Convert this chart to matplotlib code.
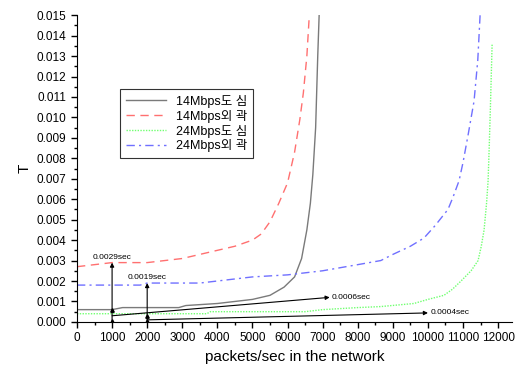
import numpy as np
import matplotlib.pyplot as plt
from matplotlib.ticker import MultipleLocator, FormatStrFormatter

plt.rcParams['font.family'] = ['Liberation Sans', 'Noto Sans CJK KR', 'DejaVu Sans']

# 14Mbps downtown (gray solid)
x_14d = [0, 1000, 1300, 2900, 3100, 4000, 4500, 5000, 5500, 5900, 6200, 6400,
         6550, 6650, 6720, 6800, 6860, 6900]
y_14d = [0.0006, 0.0006, 0.0007, 0.0007, 0.0008, 0.0009, 0.0010, 0.0011, 0.0013,
         0.0017, 0.0022, 0.0031, 0.0045, 0.0058, 0.0072, 0.0095, 0.0130, 0.0150]

# 14Mbps outskirts (red dashed)
x_14o = [0, 500, 1000, 2000, 2500, 3000, 3500, 4000, 4500, 5000, 5250, 5500,
         5750, 6000, 6200, 6350, 6450, 6550, 6620]
y_14o = [0.0027, 0.0028, 0.0029, 0.0029, 0.0030, 0.0031, 0.0033, 0.0035, 0.0037,
         0.0040, 0.0043, 0.0049, 0.0058, 0.0068, 0.0083, 0.0099, 0.0112, 0.0130,
         0.0150]

# 24Mbps downtown (green dotted)
x_24d = [0, 3700, 3800, 6500, 7000, 8000, 8657, 9600, 10000, 10457, 10700,
         10943, 11229, 11429, 11520, 11600, 11670, 11714, 11745, 11780, 11829]
y_24d = [0.0004, 0.0004, 0.0005, 0.0005, 0.0006, 0.0007, 0.00075, 0.0009, 0.0011,
         0.0013, 0.0016, 0.0020, 0.0025, 0.0030, 0.0037, 0.0045, 0.0058, 0.0069,
         0.0085, 0.0105, 0.0136]

# 24Mbps outskirts (blue dash-dot)
x_24o = [0, 1800, 2000, 3500, 4000, 4500, 5000, 6000, 7000, 8000, 8657, 9000,
         9500, 9886, 10200, 10571, 10714, 10886, 11000, 11150, 11314, 11420, 11486]
y_24o = [0.0018, 0.0018, 0.0019, 0.0019, 0.0020, 0.0021, 0.0022, 0.0023, 0.0025,
         0.0028, 0.0030, 0.0033, 0.0037, 0.0041, 0.0047, 0.0055, 0.0061, 0.0069,
         0.0078, 0.0092, 0.0108, 0.0128, 0.0150]

labels = ['14Mbps도 심', '14Mbps외 곽', '24Mbps도 심', '24Mbps외 곽']

fig = plt.figure(figsize=(5.15, 3.7), dpi=100)
ax = fig.add_axes([0.1495, 0.13, 0.845, 0.829])

ax.plot(x_14d, y_14d, color='#7a7a7a', lw=1.0, ls='-', label=labels[0])
ax.plot(x_14o, y_14o, color='#ff7070', lw=1.0, ls=(0, (6, 4)), label=labels[1])
ax.plot(x_24d, y_24d, color='#70ff70', lw=1.0, ls=(0, (1, 1)), label=labels[2])
ax.plot(x_24o, y_24o, color='#7070ff', lw=1.0, ls=(0, (6, 3, 1.5, 3)), label=labels[3])

# annotations
arrow = dict(arrowstyle='-|>', color='black', lw=0.8, mutation_scale=6,
             shrinkA=0, shrinkB=0)
ax.annotate('', xy=(1000, 0.0029), xytext=(1000, 0.0), arrowprops=arrow)
ax.annotate('', xy=(2000, 0.0019), xytext=(2000, 0.0), arrowprops=arrow)
ax.plot([1000, 1000, 2000, 2000], [0.0006, 0.00005, 0.0003, 0.00005], '^',
        color='black', ms=2.5)
ax.text(1000, 0.0030, '0.0029sec', fontsize=6, ha='center', va='bottom')
ax.text(2000, 0.0020, '0.0019sec', fontsize=6, ha='center', va='bottom')
ax.annotate('', xy=(7200, 0.0012), xytext=(1000, 0.0003), arrowprops=arrow)
ax.annotate('', xy=(10000, 0.00044), xytext=(2000, 0.0001), arrowprops=arrow)
ax.text(7250, 0.0012, '0.0006sec', fontsize=6, ha='left', va='center')
ax.text(10080, 0.00044, '0.0004sec', fontsize=6, ha='left', va='center')

ax.set_xlim(0, 12400)
ax.set_ylim(0, 0.015)
ax.xaxis.set_major_locator(MultipleLocator(1000))
ax.xaxis.set_minor_locator(MultipleLocator(500))
ax.yaxis.set_major_locator(MultipleLocator(0.001))
ax.yaxis.set_minor_locator(MultipleLocator(0.0005))
ax.yaxis.set_major_formatter(FormatStrFormatter('%.3f'))
ax.set_xticks(np.arange(0, 12001, 1000))
ax.spines['top'].set_visible(False)
ax.spines['right'].set_visible(False)
ax.tick_params(which='major', direction='out', length=4, width=1, labelsize=8.5)
ax.tick_params(which='minor', direction='out', length=2.5, width=1)
ax.set_xlabel('packets/sec in the network', fontsize=11)
ax.set_ylabel('T', fontsize=11)

leg = ax.legend(loc='upper left', bbox_to_anchor=(0.085, 0.779),
                frameon=True, fancybox=False, edgecolor='black',
                handlelength=3.2, borderpad=0.45, labelspacing=0.15,
                prop={'family': ['Liberation Sans', 'Noto Sans CJK KR'], 'size': 9})
leg.get_frame().set_linewidth(0.8)

fig.savefig('out.png', dpi=100)
